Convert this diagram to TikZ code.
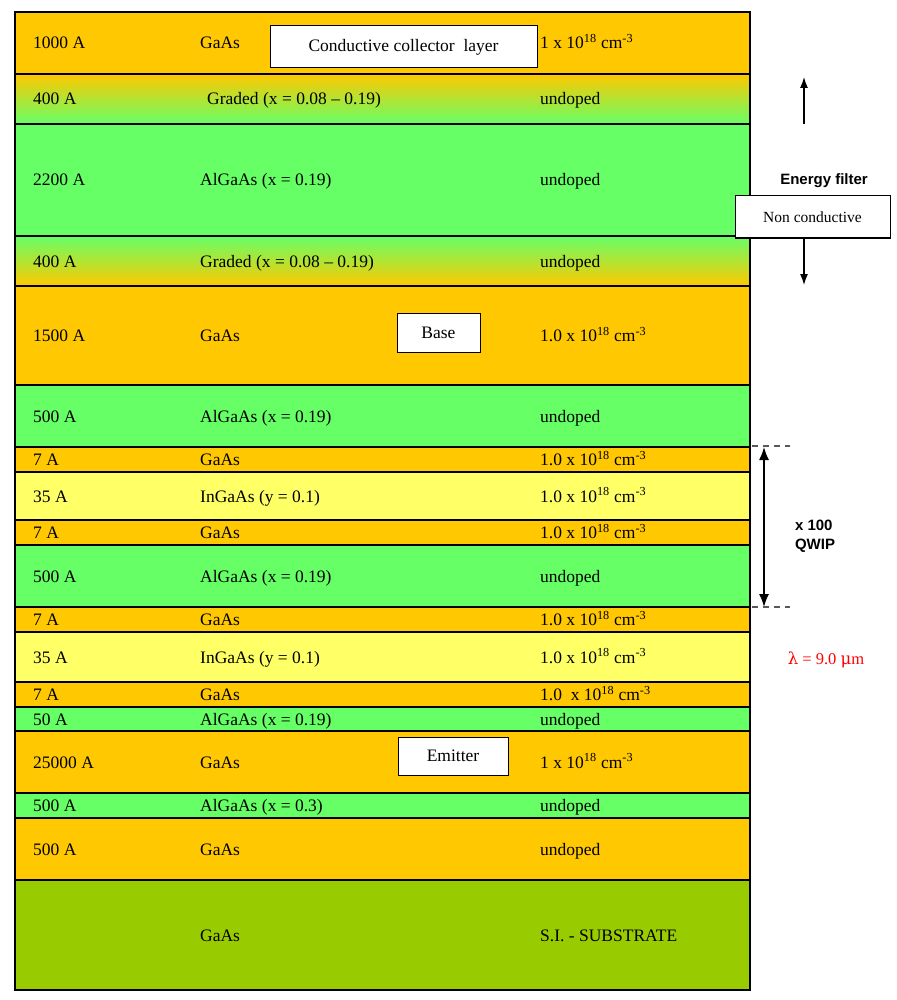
\documentclass[tikz,border=0pt]{standalone}
\usepackage{fontspec}
\usetikzlibrary{arrows.meta}
\setmainfont{Liberation Serif}
\newfontfamily\arialf{Liberation Sans}
\newfontfamily\dejavu{DejaVu Serif}
\definecolor{org}{HTML}{FFC800}
\definecolor{grn}{HTML}{66FF66}
\definecolor{ylw}{HTML}{FFFF66}
\definecolor{olv}{HTML}{99CC00}
\begin{document}
\begin{tikzpicture}[x=1pt,y=-1pt,
  lay/.style={draw=black,line width=1.2pt},
  lbl/.style={anchor=base west,font=\fontsize{17.5}{19}\selectfont,inner sep=0pt},
  wbox/.style={draw=black,fill=white,line width=1pt,font=\fontsize{17.5}{19}\selectfont,inner sep=0pt},
  side/.style={font=\arialf\bfseries\fontsize{15}{19}\selectfont,align=left}]
\useasboundingbox (0,0) rectangle (896,1000);
\newcommand{\lyr}[6]{%
  \path[lay,fill=#3] (15,#1) rectangle (750,#2);
  \node[lbl] at (33,{(#1+#2)/2+6}) {#4};
  \node[lbl] at (200,{(#1+#2)/2+6}) {#5};
  \node[lbl] at (540,{(#1+#2)/2+6}) {#6};}
\newcommand{\dop}{1.0 x 10\textsuperscript{18} cm\textsuperscript{-3}}
\lyr{12}{74}{org}{1000 A}{GaAs}{1 x 10\textsuperscript{18} cm\textsuperscript{-3}}
\path[lay,top color=org,bottom color=grn] (15,74) rectangle (750,124);
\node[lbl] at (33,105) {400 A};
\node[lbl] at (207,105) {Graded (x = 0.08 -- 0.19)};
\node[lbl] at (540,105) {undoped};
\lyr{124}{236}{grn}{2200 A}{AlGaAs (x = 0.19)}{undoped}
\path[lay,top color=grn,bottom color=org] (15,236) rectangle (750,286);
\node[lbl] at (33,267) {400 A};
\node[lbl] at (200,267) {Graded (x = 0.08 -- 0.19)};
\node[lbl] at (540,267) {undoped};
\lyr{286}{385}{org}{1500 A}{GaAs}{\dop}
\lyr{385}{447}{grn}{500 A}{AlGaAs (x = 0.19)}{undoped}
\lyr{447}{472}{org}{7 A}{GaAs}{\dop}
\lyr{472}{520}{ylw}{35 A}{InGaAs (y = 0.1)}{\dop}
\lyr{520}{545}{org}{7 A}{GaAs}{\dop}
\lyr{545}{607}{grn}{500 A}{AlGaAs (x = 0.19)}{undoped}
\lyr{607}{632}{org}{7 A}{GaAs}{\dop}
\lyr{632}{682}{ylw}{35 A}{InGaAs (y = 0.1)}{\dop}
\lyr{682}{707}{org}{7 A}{GaAs}{1.0 \ x 10\textsuperscript{18} cm\textsuperscript{-3}}
\lyr{707}{731}{grn}{50 A}{AlGaAs (x = 0.19)}{undoped}
\lyr{731}{793}{org}{25000 A}{GaAs}{1 x 10\textsuperscript{18} cm\textsuperscript{-3}}
\lyr{793}{818}{grn}{500 A}{AlGaAs (x = 0.3)}{undoped}
\lyr{818}{880}{org}{500 A}{GaAs}{undoped}
\lyr{880}{990}{olv}{}{GaAs}{S.I. - SUBSTRATE}
\node[wbox,minimum width=267pt,minimum height=42pt] (ccl) at (403.5,47) {Conductive collector\ \ layer};
\node[wbox,minimum width=83pt,minimum height=39pt] (base) at (438.5,332.5) {Base};
\node[wbox,minimum width=110pt,minimum height=38pt] (emit) at (453,756) {Emitter};
\node[side] (ef) at (824,181) {Energy filter};
\node[wbox,minimum width=155pt,minimum height=42pt,font=\fontsize{15.5}{18}\selectfont] (nc) at (812.5,217) {Non conductive};
\coordinate (upt) at (804,77);
\coordinate (upb) at (804,124);
\coordinate (dnt) at (804,238);
\coordinate (dnb) at (804,285);
\draw[-{Latex[length=11pt,width=8pt]},line width=1.3pt] (upb) -- (upt);
\draw[-{Latex[length=11pt,width=8pt]},line width=1.3pt] (dnt) -- (dnb);
\coordinate (q1) at (764,447);
\coordinate (q2) at (764,607);
\draw[{Latex[length=13pt,width=10pt]}-{Latex[length=13pt,width=10pt]},line width=1.5pt] (q1) -- (q2);
\draw[dashed,gray!70!black,line width=1.2pt,dash pattern=on 6pt off 5pt] (752,446) -- (790,446) (752,607) -- (790,607);
\node[side] (qw) at (815,536) {x 100\\QWIP};
\node[text=red,font=\fontsize{16.5}{19}\selectfont] (lam) at (826,660) {{\dejavu λ} = 9.0 {\dejavu μ}m};
\end{tikzpicture}
\end{document}
